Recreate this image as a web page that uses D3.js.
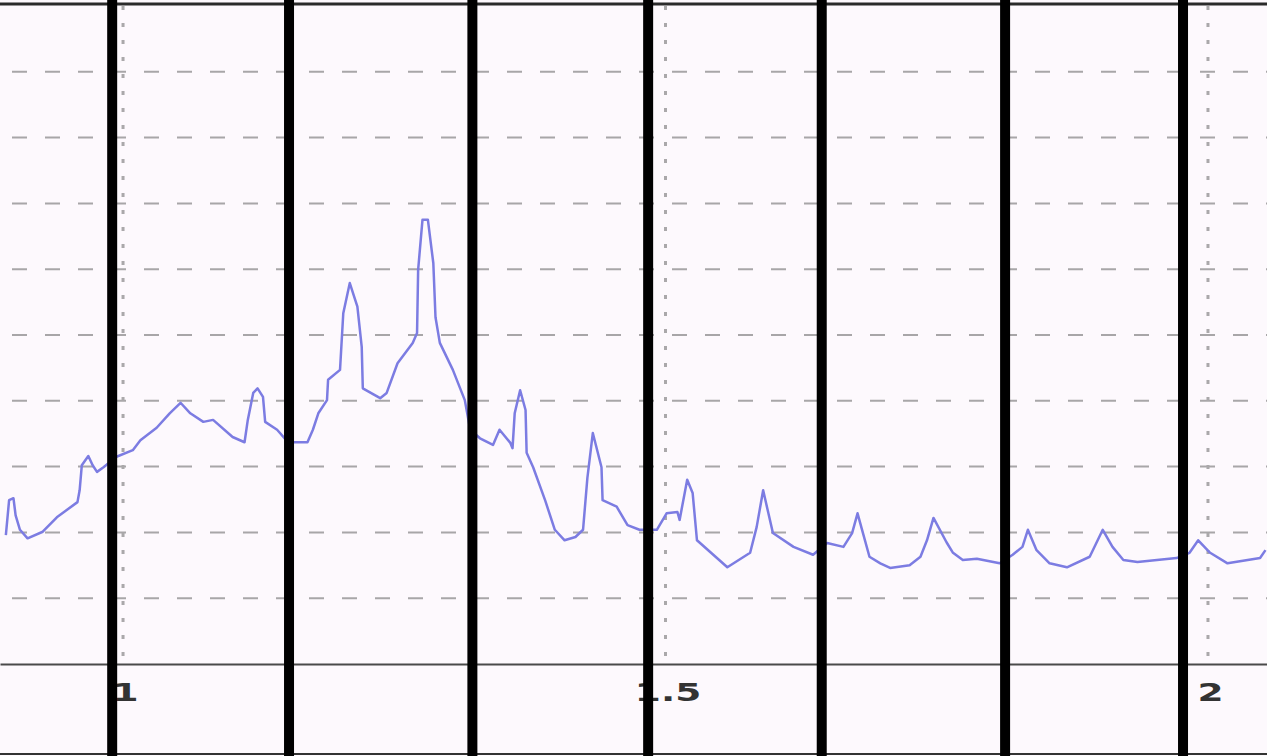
<!DOCTYPE html>
<html>
<head>
<meta charset="utf-8">
<script src="https://cdn.jsdelivr.net/npm/d3@7"></script>
<style>
  html, body { margin: 0; padding: 0; background: #fdf9fd; }
  svg { display: block; }
</style>
</head>
<body>
<div id="chart"></div>
<script>
// trace samples (x in axis units, y in grid units)
const traceX = [0.892, 0.895, 0.899, 0.901, 0.905, 0.912, 0.926, 0.939, 0.958, 0.960, 0.962, 0.968, 0.972, 0.976, 0.982, 0.988, 0.994,
  1.009, 1.016, 1.031, 1.043, 1.053, 1.062, 1.074, 1.083, 1.101, 1.112, 1.115, 1.120, 1.124, 1.129, 1.131, 1.142, 1.149, 1.157,
  1.170, 1.175, 1.180, 1.188, 1.189, 1.200, 1.203, 1.209, 1.216, 1.220, 1.221, 1.237, 1.243, 1.253, 1.267, 1.271, 1.272, 1.276,
  1.281, 1.286, 1.288, 1.292, 1.304, 1.315, 1.320, 1.329, 1.341, 1.347, 1.357, 1.359, 1.361, 1.366, 1.371, 1.372, 1.378, 1.389,
  1.398, 1.407, 1.417, 1.424, 1.428, 1.433, 1.441, 1.442, 1.455, 1.465, 1.476, 1.492, 1.501, 1.511, 1.513, 1.520, 1.525, 1.529,
  1.557, 1.578, 1.584, 1.590, 1.599, 1.618, 1.636, 1.649, 1.664, 1.672, 1.677, 1.682, 1.688, 1.698, 1.707, 1.725, 1.735, 1.741,
  1.747, 1.759, 1.765, 1.774, 1.787, 1.808, 1.820, 1.829, 1.834, 1.842, 1.854, 1.870, 1.891, 1.903, 1.912, 1.922, 1.935, 1.971,
  1.983, 1.991, 2.002, 2.018, 2.048, 2.053];
const traceY = [1.96, 2.49, 2.52, 2.26, 2.04, 1.91, 2.01, 2.23, 2.46, 2.64, 3.02, 3.16, 3.02, 2.92, 2.99, 3.07, 3.15,
  3.25, 3.40, 3.59, 3.81, 3.97, 3.81, 3.68, 3.71, 3.45, 3.37, 3.71, 4.12, 4.19, 4.06, 3.68, 3.56, 3.43, 3.37,
  3.37, 3.56, 3.81, 4.01, 4.32, 4.47, 5.33, 5.79, 5.43, 4.82, 4.19, 4.04, 4.12, 4.57, 4.88, 5.03, 5.99, 6.75,
  6.75, 6.09, 5.27, 4.88, 4.47, 4.01, 3.56, 3.43, 3.33, 3.56, 3.36, 3.28, 3.81, 4.16, 3.86, 3.21, 2.99, 2.49,
  2.04, 1.88, 1.93, 2.04, 2.83, 3.51, 2.99, 2.49, 2.39, 2.11, 2.04, 2.04, 2.29, 2.31, 2.19, 2.80, 2.60, 1.88,
  1.47, 1.69, 2.08, 2.64, 1.99, 1.78, 1.66, 1.84, 1.78, 1.99, 2.29, 1.99, 1.63, 1.53, 1.46, 1.50, 1.63, 1.88,
  2.22, 1.85, 1.69, 1.58, 1.60, 1.53, 1.66, 1.78, 2.04, 1.73, 1.53, 1.47, 1.63, 2.04, 1.78, 1.58, 1.55, 1.61,
  1.69, 1.88, 1.69, 1.53, 1.61, 1.73];
const markerX = [0.990, 1.153, 1.322, 1.484, 1.644, 1.813, 1.977];
const xTicks = [1, 1.5, 2];
const xTickLabels = ["1", "1.5", "2"];
const yGrid = [1, 2, 3, 4, 5, 6, 7, 8, 9];

const width = 1267, height = 756;
const plotTop = 6, plotBottom = 664;

const svg = d3.select('#chart').append('svg')
  .attr('width', width)
  .attr('height', height);

svg.append('rect')
  .attr('width', width)
  .attr('height', height)
  .attr('fill', '#fdf9fd');

const x = d3.scaleLinear().domain([0.8866, 2.0544]).range([0, width]);
const y = d3.scaleLinear().domain([0, 10]).range([plotBottom, plotTop]);

// dashed horizontal grid
svg.selectAll('.y-grid')
  .data(yGrid)
  .join('line')
  .attr('class', 'y-grid')
  .attr('x1', 0)
  .attr('x2', width)
  .attr('y1', d => y(d))
  .attr('y2', d => y(d))
  .attr('stroke', '#a8a6a8')
  .attr('stroke-width', 2)
  .attr('stroke-dasharray', '15,18')
  .attr('stroke-dashoffset', -12);

// dotted vertical grid at the ticks
svg.selectAll('.x-grid')
  .data(xTicks)
  .join('line')
  .attr('class', 'x-grid')
  .attr('x1', d => x(d))
  .attr('x2', d => x(d))
  .attr('y1', plotTop)
  .attr('y2', plotBottom)
  .attr('stroke', '#aaa8aa')
  .attr('stroke-width', 3)
  .attr('stroke-dasharray', '4,13');

// the trace
const points = traceX.map((d, i) => [d, traceY[i]]);
const line = d3.line()
  .x(d => x(d[0]))
  .y(d => y(d[1]));

svg.append('path')
  .datum(points)
  .attr('fill', 'none')
  .attr('stroke', '#7c7ce2')
  .attr('stroke-width', 2.5)
  .attr('stroke-linejoin', 'round')
  .attr('d', line);

// bottom axis
const axisX = svg.append('g')
  .attr('transform', `translate(0, ${y(0)})`)
  .call(d3.axisBottom(x)
    .tickValues(xTicks)
    .tickSize(0)
    .tickSizeOuter(0)
    .tickPadding(0)
    .tickFormat((d, i) => xTickLabels[i]));

axisX.select('.domain')
  .attr('stroke', '#4a4a4a')
  .attr('stroke-width', 2);

axisX.selectAll('text')
  .attr('y', 0)
  .attr('dy', 0)
  .attr('transform', 'translate(2, 37) scale(1.5, 1)')
  .style('font-family', '"DejaVu Sans", sans-serif')
  .style('font-size', '25px')
  .style('font-weight', 'bold')
  .attr('fill', '#333');

// frame lines
svg.append('line')
  .attr('x1', 0).attr('x2', width)
  .attr('y1', 4).attr('y2', 4)
  .attr('stroke', '#2a2a2a')
  .attr('stroke-width', 3);

svg.append('line')
  .attr('x1', 0).attr('x2', width)
  .attr('y1', 754).attr('y2', 754)
  .attr('stroke', '#333')
  .attr('stroke-width', 2);

// thick black markers
svg.selectAll('.marker')
  .data(markerX)
  .join('line')
  .attr('class', 'marker')
  .attr('x1', d => x(d))
  .attr('x2', d => x(d))
  .attr('y1', 0)
  .attr('y2', height)
  .attr('stroke', '#000')
  .attr('stroke-width', 10);
</script>
</body>
</html>
